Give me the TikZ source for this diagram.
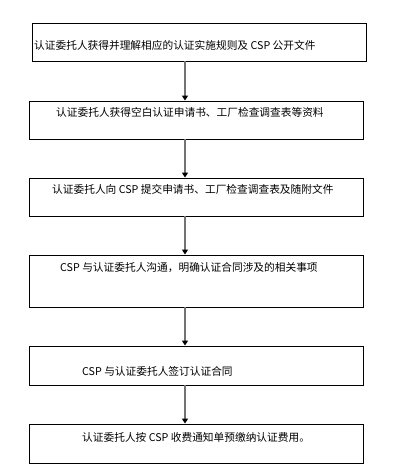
\documentclass[tikz,border=0pt]{standalone}
\usepackage{fontspec}
\newfontfamily\cjk{Noto Sans CJK SC}
\usetikzlibrary{positioning, arrows.meta}

\begin{document}
\begin{tikzpicture}[
    x=1pt, y=-1pt,
    every node/.style={font=\cjk\fontsize{10.7}{12}\selectfont},
    stepbox/.style={draw=black, line width=0.9pt, minimum width=334pt, minimum height=38pt, inner sep=0pt},
    txt/.style={anchor=west, inner sep=0pt},
    arrow/.style={draw=gray!90!black, line width=1.4pt, -{Triangle[length=5pt, width=6pt, fill=black, color=black]}}
]
\useasboundingbox (0,0) rectangle (417,472);

% Boxes
\node[stepbox, minimum width=334pt] (s1) at (199,42) {};
\node[stepbox] (s2) at (196,120) {};
\node[stepbox] (s3) at (196,197) {};
\node[stepbox, minimum height=52pt] (s4) at (196,281) {};
\node[stepbox, minimum height=39pt] (s5) at (196,365.5) {};
\node[stepbox, minimum height=39pt] (s6) at (196,443.5) {};

% Texts
\node[txt] (t1) at (34,45)  {认证委托人获得并理解相应的认证实施规则及 CSP 公开文件};
\node[txt] (t2) at (56,112) {认证委托人获得空白认证申请书、工厂检查调查表等资料};
\node[txt] (t3) at (52,189) {认证委托人向 CSP 提交申请书、工厂检查调查表及随附文件};
\node[txt] (t4) at (60,268) {CSP 与认证委托人沟通，明确认证合同涉及的相关事项};
\node[txt] (t5) at (82,371) {CSP 与认证委托人签订认证合同};
\node[txt] (t6) at (82,437) {认证委托人按 CSP 收费通知单预缴纳认证费用。};

% Arrows
\coordinate (a1) at (185,61);
\draw[arrow] (a1) -- (a1 |- s2.north);
\coordinate (a2) at (185,139);
\draw[arrow] (a2) -- (a2 |- s3.north);
\coordinate (a3) at (185,216);
\draw[arrow] (a3) -- (a3 |- s4.north);
\coordinate (a4) at (185,307);
\draw[arrow] (a4) -- (a4 |- s5.north);
\coordinate (a5) at (185,385);
\draw[arrow] (a5) -- (a5 |- s6.north);

\end{tikzpicture}
\end{document}
